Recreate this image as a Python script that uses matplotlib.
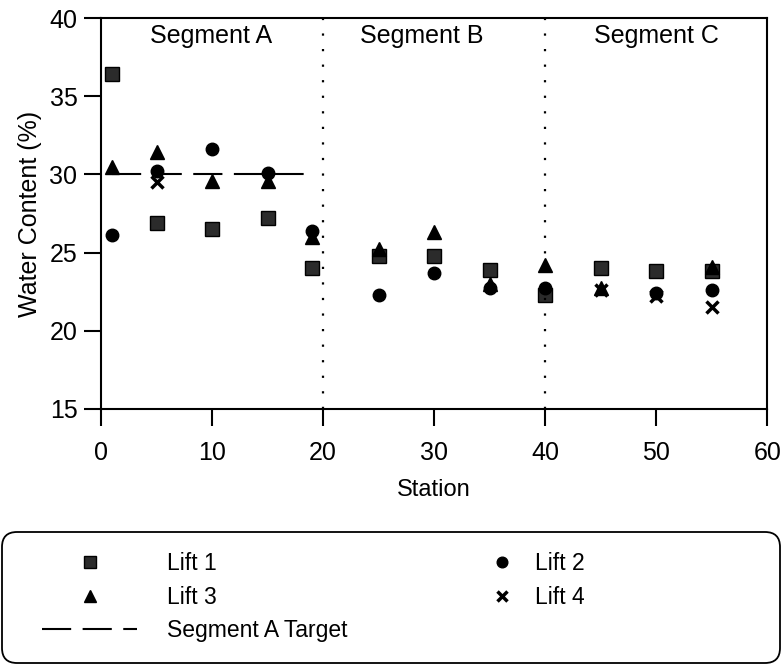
import numpy as np
import matplotlib.pyplot as plt
from matplotlib.patches import FancyBboxPatch

plt.rcParams['font.family'] = ['Liberation Sans', 'DejaVu Sans']

# Water content by station for each lift
stations = [1, 5, 10, 15, 19, 25, 30, 35, 40, 45, 50, 55]
lift1 = [36.4, 26.9, 26.5, 27.2, 24.0, 24.8, 24.8, 23.9, 22.3, 24.0, 23.8, 23.8]
lift2 = [26.1, 30.2, 31.6, 30.1, 26.4, 22.3, 23.7, 22.7, 22.7, np.nan, 22.4, 22.6]
lift3 = [30.5, 31.4, 29.6, 29.6, 26.0, 25.2, 26.3, 23.0, 24.2, 22.7, np.nan, 24.1]
lift4_stations = [5, 45, 50, 55]
lift4 = [29.5, 22.6, 22.2, 21.5]

# Target for segment A and the segment boundaries
target_x = [1, 19]
target_y = [30, 30]
boundaries = [20, 40]
segment_names = ['Segment A', 'Segment B', 'Segment C']
segment_centers = [9.9, 28.9, 50.0]

fig = plt.figure(figsize=(7.83, 6.67), dpi=100)
ax = fig.add_axes([0.129, 0.387, 0.851, 0.586])

h1, = ax.plot(stations, lift1, ls='none', marker='s', ms=10.5, mfc='#2b2b2b', mec='black', label='Lift 1')
h2, = ax.plot(stations, lift2, ls='none', marker='o', ms=9, mfc='black', mec='black', label='Lift 2')
h3, = ax.plot(stations, lift3, ls='none', marker='^', ms=10, mfc='black', mec='black', label='Lift 3')
h4, = ax.plot(lift4_stations, lift4, ls='none', marker='x', ms=8.5, mew=2.5, color='black', label='Lift 4')
ht, = ax.plot(target_x, target_y, color='black', lw=1.5, ls=(0, (14, 5.5)), label='Segment A Target')

for b in boundaries:
    ax.axvline(b, color='black', lw=1.6, ls=(0, (1, 6)))

for name, cx in zip(segment_names, segment_centers):
    ax.text(cx, 38.85, name, ha='center', va='center', fontsize=18)

ax.set_xlim(0, 60)
ax.set_ylim(15, 40)
ax.set_xticks(range(0, 61, 10))
ax.set_yticks(range(15, 41, 5))
ax.tick_params(direction='out', length=12, width=1.5, labelsize=18)
ax.tick_params(axis='x', pad=11)
ax.tick_params(axis='y', pad=5)
for s in ax.spines.values():
    s.set_linewidth(1.5)

ax.set_xlabel('Station', fontsize=17, labelpad=10)
ax.set_ylabel('Water Content (%)', fontsize=18, labelpad=5)

# Legend: two columns laid out separately inside one rounded frame
frame = FancyBboxPatch((0.02, 0.04), 7.78, 1.31, boxstyle='round,pad=0,rounding_size=0.15',
                       transform=fig.dpi_scale_trans, fill=False, edgecolor='black', lw=1.3)
fig.add_artist(frame)

leg_kw = dict(loc='upper left', fontsize=16.5, markerscale=0.85, frameon=False,
              borderpad=0, borderaxespad=0, labelspacing=0.46)
leg1 = fig.legend([h1, h3, ht], ['Lift 1', 'Lift 3', 'Segment A Target'],
                  bbox_to_anchor=(42 / 783, 1 - 552 / 667), handlelength=4.15,
                  handletextpad=1.3, **leg_kw)
leg2 = fig.legend([h2, h4], ['Lift 2', 'Lift 4'],
                  bbox_to_anchor=(485 / 783, 1 - 552 / 667), handlelength=1.5,
                  handletextpad=0.7, **leg_kw)

fig.savefig('out.png', dpi=100)
